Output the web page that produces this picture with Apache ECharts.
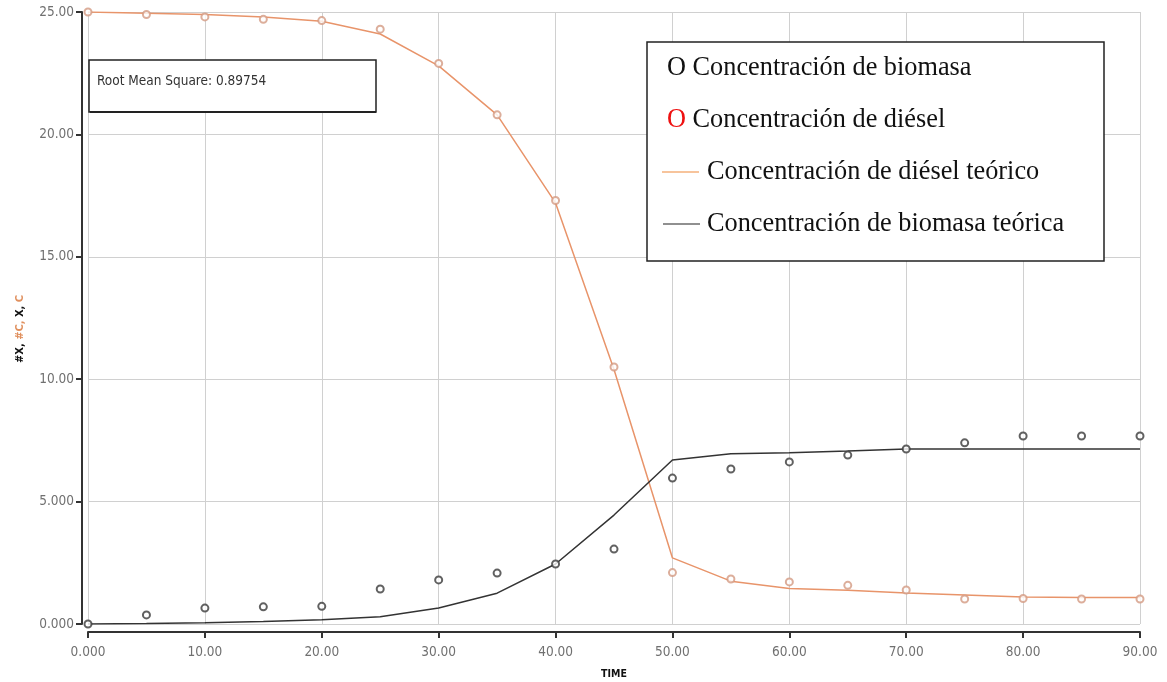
<!DOCTYPE html>
<html><head><meta charset="utf-8">
<script src="https://cdn.jsdelivr.net/npm/echarts@6/dist/echarts.min.js"></script>
<style>html,body{margin:0;padding:0;background:#fff}#c{width:1167px;height:682px}</style>
</head><body><div id="c"></div>
<script>
const time = [0,5,10,15,20,25,30,35,40,45,50,55,60,65,70,75,80,85,90];
const dieselObs = [25.0,24.9,24.8,24.7,24.65,24.3,22.9,20.8,17.3,10.5,2.1,1.84,1.72,1.58,1.39,1.02,1.04,1.02,1.02];
const biomasaObs = [0.0,0.37,0.65,0.7,0.72,1.43,1.8,2.08,2.45,3.06,5.96,6.33,6.62,6.9,7.15,7.4,7.68,7.68,7.68];
const dieselTeo = [25.0,24.95,24.9,24.8,24.62,24.1,22.8,20.8,17.2,10.4,2.7,1.75,1.45,1.38,1.27,1.18,1.1,1.08,1.08];
const biomasaTeo = [0.0,0.02,0.05,0.1,0.17,0.3,0.65,1.26,2.45,4.45,6.7,6.95,7.0,7.07,7.15,7.15,7.15,7.15,7.15];
const yTicks = {0:'0.000',5:'5.000',10:'10.00',15:'15.00',20:'20.00',25:'25.00'};
const legendTexts = ['Concentración de biomasa','Concentración de diésel','Concentración de diésel teórico','Concentración de biomasa teórica'];
const rmsText = 'Root Mean Square: 0.89754';

const pair = (xs, ys) => xs.map((x,i)=>[x, ys[i]]);
const fmtX = v => v === 0 ? '0.000' : (v < 10 ? v.toFixed(3) : v.toFixed(2));
const sansC = '"DejaVu Sans Condensed","DejaVu Sans",sans-serif';
const tickFont = {color:'#707070', fontSize:13.5, fontFamily:sansC};
const serif = '"Liberation Serif","DejaVu Serif",serif';
const LF = 26.3;

const chart = echarts.init(document.getElementById('c'), null, {renderer:'canvas'});
chart.setOption({
  animation:false,
  backgroundColor:'#fff',
  grid:{left:88, right:27, top:12, bottom:58, outerBoundsMode:'none', containLabel:false},
  xAxis:{
    type:'value', min:0, max:90, interval:10, offset:8,
    name:'TIME', nameLocation:'middle', nameGap:37,
    nameTextStyle:{color:'#111', fontSize:10.5, fontWeight:'bold', fontFamily:sansC},
    axisLine:{show:true, onZero:false, lineStyle:{color:'#333', width:2}},
    axisTick:{show:true, length:6, lineStyle:{color:'#333', width:2}},
    axisLabel:Object.assign({formatter:fmtX, margin:13}, tickFont),
    splitLine:{show:true, lineStyle:{color:'#d0d0d0', width:1}}
  },
  yAxis:{
    type:'value', min:0, max:25, interval:5, offset:6,
    axisLine:{show:true, onZero:false, lineStyle:{color:'#333', width:2}},
    axisTick:{show:true, length:6, lineStyle:{color:'#333', width:2}},
    axisLabel:Object.assign({formatter:v=>yTicks[v]!==undefined?yTicks[v]:v.toFixed(2), margin:8}, tickFont),
    splitLine:{show:true, lineStyle:{color:'#d0d0d0', width:1}}
  },
  series:[
    {name:legendTexts[2], type:'line', data:pair(time,dieselTeo), showSymbol:false, symbol:'none',
     lineStyle:{color:'#e8946a', width:1.5}, z:2},
    {name:legendTexts[3], type:'line', data:pair(time,biomasaTeo), showSymbol:false, symbol:'none',
     lineStyle:{color:'#333', width:1.5}, z:2},
    {name:legendTexts[1], type:'scatter', data:pair(time,dieselObs), symbol:'emptyCircle', symbolSize:7,
     itemStyle:{color:'#d39a82', borderWidth:1.3}, z:3},
    {name:legendTexts[0], type:'scatter', data:pair(time,biomasaObs), symbol:'emptyCircle', symbolSize:7,
     itemStyle:{color:'#3a3a3a', borderWidth:1.3}, z:3}
  ],
  graphic:[
    {type:'text', x:20, y:329, rotation:Math.PI/2, z:10,
     style:{rich:{k:{fill:'#111', fontWeight:'bold', fontSize:11, fontFamily:sansC},
                  o:{fill:'#e0905e', fontWeight:'bold', fontSize:11, fontFamily:sansC}},
            text:'{k|#X, }{o|#C, }{k|X, }{o|C}', align:'center', verticalAlign:'middle'}},
    {type:'rect', shape:{x:89, y:60, width:287, height:52}, z:10,
     style:{fill:'#fff', stroke:'#222', lineWidth:1.5}},
    {type:'line', shape:{x1:90, y1:112, x2:376, y2:112}, z:10, style:{stroke:'#222', lineWidth:2}},
    {type:'text', x:97, y:81, z:11,
     style:{text:rmsText, fill:'#333', fontSize:13.5, fontFamily:sansC, verticalAlign:'middle'}},
    {type:'rect', shape:{x:647, y:42, width:457, height:219}, z:10,
     style:{fill:'#fff', stroke:'#222', lineWidth:1.5}},
    {type:'text', x:667, y:68, z:11,
     style:{rich:{m:{fill:'#111', fontSize:LF, fontFamily:serif}, t:{fill:'#111', fontSize:LF, fontFamily:serif}},
            text:'{m|O\u00a0}{t|'+legendTexts[0]+'}', verticalAlign:'middle'}},
    {type:'text', x:667, y:120, z:11,
     style:{rich:{m:{fill:'#ee1111', fontSize:LF, fontFamily:serif}, t:{fill:'#111', fontSize:LF, fontFamily:serif}},
            text:'{m|O\u00a0}{t|'+legendTexts[1]+'}', verticalAlign:'middle'}},
    {type:'line', shape:{x1:662, y1:172, x2:699, y2:172}, z:11, style:{stroke:'#f08a3a', lineWidth:1.2}},
    {type:'text', x:707, y:172, z:11,
     style:{text:legendTexts[2], fill:'#111', fontSize:LF, fontFamily:serif, verticalAlign:'middle'}},
    {type:'line', shape:{x1:663, y1:224, x2:700, y2:224}, z:11, style:{stroke:'#222', lineWidth:1.2}},
    {type:'text', x:707, y:224, z:11,
     style:{text:legendTexts[3], fill:'#111', fontSize:LF, fontFamily:serif, verticalAlign:'middle'}}
  ]
});
</script></body></html>
